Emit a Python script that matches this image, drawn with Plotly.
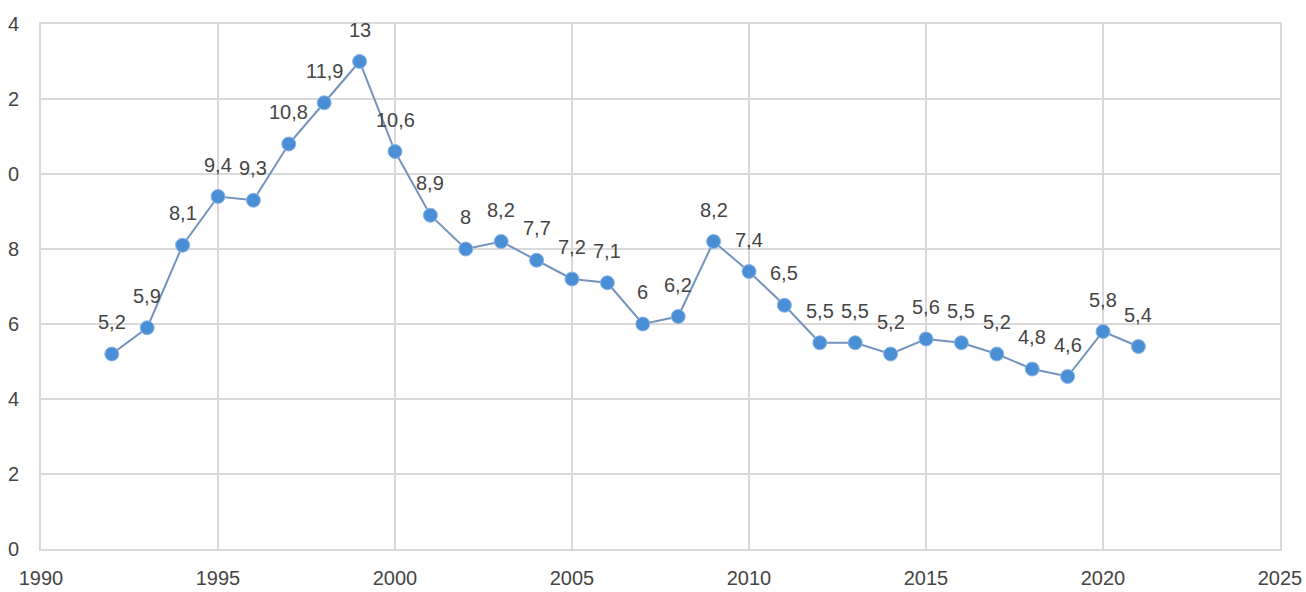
import plotly.graph_objects as go

years = list(range(1992, 2022))
values = [5.2, 5.9, 8.1, 9.4, 9.3, 10.8, 11.9, 13, 10.6, 8.9, 8, 8.2, 7.7, 7.2, 7.1,
          6, 6.2, 8.2, 7.4, 6.5, 5.5, 5.5, 5.2, 5.6, 5.5, 5.2, 4.8, 4.6, 5.8, 5.4]
value_labels = ["5,2", "5,9", "8,1", "9,4", "9,3", "10,8", "11,9", "13", "10,6", "8,9", "8", "8,2",
                "7,7", "7,2", "7,1", "6", "6,2", "8,2", "7,4", "6,5", "5,5", "5,5", "5,2", "5,6",
                "5,5", "5,2", "4,8", "4,6", "5,8", "5,4"]
x_ticks = [1990, 1995, 2000, 2005, 2010, 2015, 2020, 2025]
y_ticks = [0, 2, 4, 6, 8, 10, 12, 14]
y_tick_labels = ["0", "2", "4", "6", "8", "0", "2", "4"]

FONT = "Liberation Sans, Arial, sans-serif"
TXT = "#454545"
GRID = "#d9d9d9"

fig = go.Figure()
fig.add_trace(go.Scatter(
    x=years, y=values, mode="lines+markers",
    line=dict(color="#7393bd", width=2),
    marker=dict(color="#4a8fd6", size=14, line=dict(color="#8db6e6", width=1)),
    hoverinfo="skip", showlegend=False,
))

for xv, yv, lab in zip(years, values, value_labels):
    fig.add_annotation(x=xv, y=yv, text=lab, showarrow=False, yshift=32,
                       font=dict(family=FONT, size=20, color=TXT))

fig.update_layout(
    width=1306, height=592,
    margin=dict(l=41, r=26, t=24, b=43, autoexpand=False),
    plot_bgcolor="white", paper_bgcolor="white",
    font=dict(family=FONT, size=20, color=TXT),
    xaxis=dict(range=[1990, 2025], tickvals=x_ticks, showgrid=True, gridcolor=GRID, gridwidth=2,
               showline=True, linecolor=GRID, linewidth=2, mirror=True, zeroline=False,
               ticks="", ticklabelstandoff=10, automargin=False),
    yaxis=dict(range=[0, 14], tickvals=y_ticks, ticktext=y_tick_labels, showgrid=True,
               gridcolor=GRID, gridwidth=2, showline=True, linecolor=GRID, linewidth=2, mirror=True,
               zeroline=False, ticks="", ticklabelstandoff=16, automargin=False),
)

fig.write_html("out.html")
